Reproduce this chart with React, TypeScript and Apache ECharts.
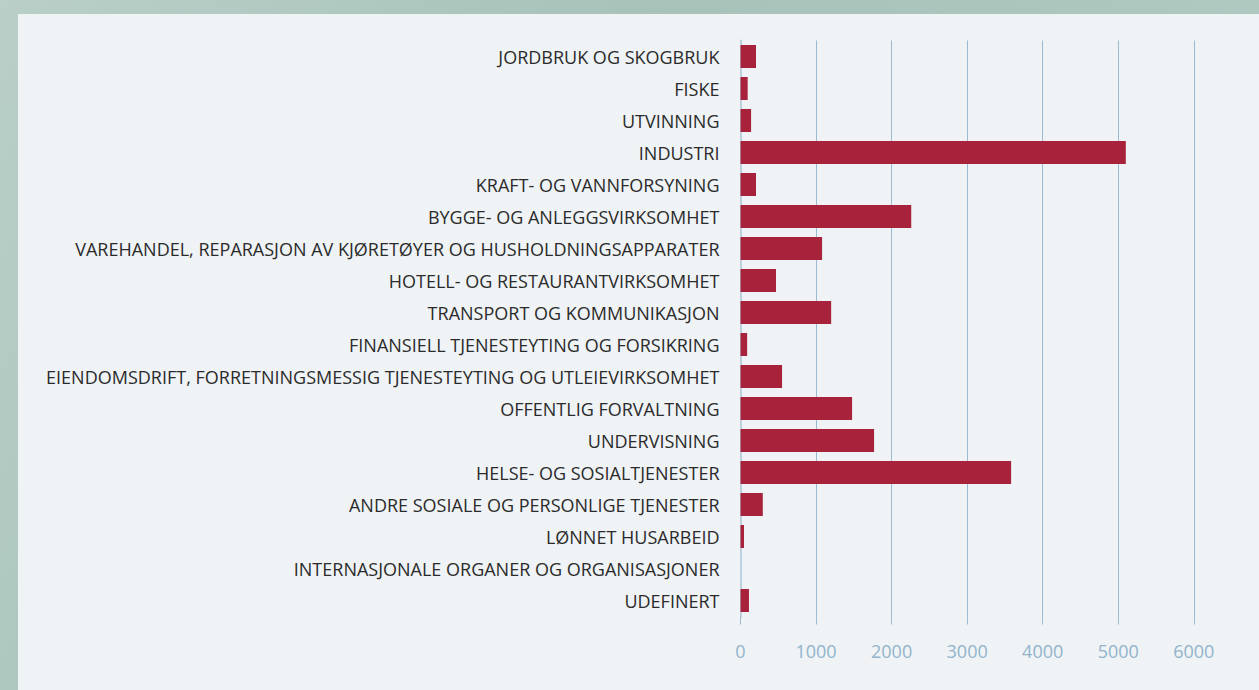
import React, { useEffect, useRef } from "react";
import * as echarts from "echarts";

const categories = [
  "JORDBRUK OG SKOGBRUK",
  "FISKE",
  "UTVINNING",
  "INDUSTRI",
  "KRAFT- OG VANNFORSYNING",
  "BYGGE- OG ANLEGGSVIRKSOMHET",
  "VAREHANDEL, REPARASJON AV KJØRETØYER OG HUSHOLDNINGSAPPARATER",
  "HOTELL- OG RESTAURANTVIRKSOMHET",
  "TRANSPORT OG KOMMUNIKASJON",
  "FINANSIELL TJENESTEYTING OG FORSIKRING",
  "EIENDOMSDRIFT, FORRETNINGSMESSIG TJENESTEYTING OG UTLEIEVIRKSOMHET",
  "OFFENTLIG FORVALTNING",
  "UNDERVISNING",
  "HELSE- OG SOSIALTJENESTER",
  "ANDRE SOSIALE OG PERSONLIGE TJENESTER",
  "LØNNET HUSARBEID",
  "INTERNASJONALE ORGANER OG ORGANISASJONER",
  "UDEFINERT",
];

const values = [205, 95, 140, 5100, 205, 2260, 1080, 470, 1200, 88, 550, 1477, 1768, 3582, 295, 46, 0, 112];

const xTicks = [0, 1000, 2000, 3000, 4000, 5000, 6000];

export default function App() {
  const ref = useRef<HTMLDivElement>(null);
  useEffect(() => {
    if (!ref.current) return;
    const chart = echarts.init(ref.current, null, { renderer: "svg" });
    chart.setOption({
      animation: false,
      backgroundColor: "transparent",
      graphic: [
        {
          type: "rect",
          z: -10,
          silent: true,
          shape: { x: 18, y: 14, width: 1241, height: 676 },
          style: { fill: "#eff3f6" },
        },
      ],
      grid: { left: 740.5, top: 40.5, width: 453.3, height: 576, containLabel: false },
      xAxis: {
        type: "value",
        min: xTicks[0],
        max: xTicks[xTicks.length - 1],
        interval: 1000,
        axisLine: { show: false },
        axisTick: { show: true, length: 8, lineStyle: { color: "#9dbbd0", width: 1 } },
        splitLine: { show: true, lineStyle: { color: "#9dbbd0", width: 1 } },
        axisLabel: {
          margin: 25,
          color: "#92b3cb",
          fontSize: 18,
          fontFamily: "Open Sans",
          formatter: (v: number) => String(v),
        },
      },
      yAxis: {
        type: "category",
        data: categories,
        inverse: true,
        axisLine: { show: true, lineStyle: { color: "#bcd2e2", width: 2 } },
        axisTick: { show: false },
        splitLine: { show: false },
        axisLabel: {
          margin: 21,
          color: "#2b2b2b",
          fontSize: 18,
          fontFamily: "Open Sans",
        },
      },
      series: [
        {
          type: "bar",
          data: values,
          barCategoryGap: "28%",
          itemStyle: { color: "#a8223b" },
        },
      ],
    });
    return () => chart.dispose();
  }, []);
  return (
    <div
      style={{
        position: "fixed",
        left: 0,
        top: 0,
        width: 1259,
        height: 690,
        background: "linear-gradient(120deg, #b9cfc8 0%, #a6c2b9 40%, #b5ccc5 100%)",
      }}
    >
      <div ref={ref} style={{ width: 1259, height: 690 }} />
    </div>
  );
}
